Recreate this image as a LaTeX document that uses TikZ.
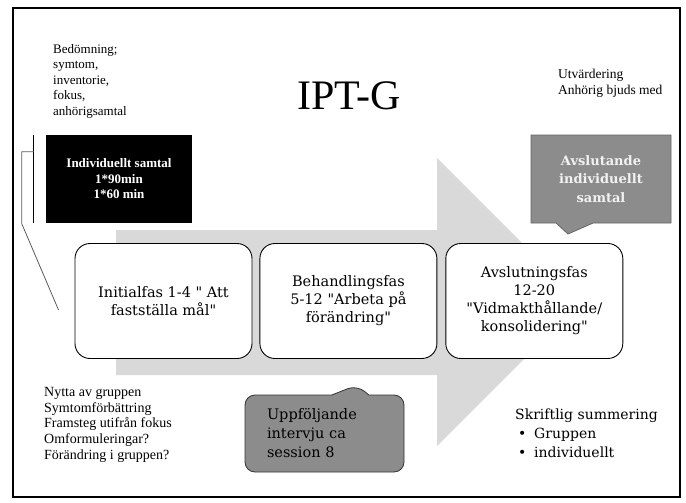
\documentclass[tikz,border=0pt]{standalone}
\usepackage{fontspec}
\setmainfont{DejaVu Serif}
\newfontfamily\boxfont{DejaVu Serif}
\newfontfamily\notefont{Liberation Serif}
\usetikzlibrary{shapes.callouts, positioning, calc}
\definecolor{arrowgray}{RGB}{217,217,217}
\definecolor{calloutgray}{RGB}{140,140,140}
\definecolor{calloutedge}{RGB}{100,100,100}
\definecolor{linkgray}{RGB}{90,90,90}
\tikzset{
	phasebox/.style={rectangle, rounded corners=15pt, draw=black, line width=0.9pt, fill=white,
		minimum width=177pt, minimum height=115pt, align=center, font=\boxfont\fontsize{14.5}{18}\selectfont},
	blackbox/.style={rectangle, fill=black, text=white, minimum width=146pt, minimum height=88pt,
		align=center, font=\notefont\bfseries\fontsize{13}{15.5}\selectfont},
	endcallout/.style={rectangle callout, draw=calloutedge, fill=calloutgray, line width=0.8pt,
		minimum width=140pt, minimum height=88pt, callout pointer width=37pt, text=white!95!black,
		align=center, font=\bfseries\fontsize{13}{18.3}\selectfont},
	midcallout/.style={rectangle callout, rounded corners=10pt, draw=black!80, fill=calloutgray,
		line width=0.8pt, minimum width=159pt, minimum height=77pt, callout pointer width=37pt,
		text width=115pt, align=left, inner sep=0pt, font=\fontsize{14.5}{19}\selectfont},
	notes/.style={align=left, inner sep=0pt, anchor=north west, font=\notefont\fontsize{13}{15.5}\selectfont},
	summary/.style={align=left, inner sep=0pt, anchor=north west, font=\fontsize{14}{19}\selectfont},
	bigarrow/.style={fill=arrowgray},
	linkline/.style={draw=linkgray, line width=0.8pt},
}
\begin{document}
\begin{tikzpicture}[x=1pt, y=-1pt]
	\useasboundingbox (0,0) rectangle (686,503);
	% slide frame
	\draw[line width=1.5pt] (13,8) rectangle (680,497);
	% big arrow behind the phases
	\fill[bigarrow] (116,230) -- (437,230) -- (437,158) -- (581,302) -- (437,446) -- (437,375) -- (116,375) -- cycle;
	\node[font=\notefont\fontsize{42}{48}\selectfont](title) at (349,96){IPT-G};
	\node[phasebox](initial) at (163.5,301){Initialfas 1-4 " Att\\fastställa mål"};
	\node[phasebox,right=7pt of initial](treatment){Behandlingsfas\\5-12 "Arbeta på\\förändring"};
	\node[phasebox,right=8pt of treatment](closing){Avslutningsfas\\12-20\\"Vidmakthållande/\\konsolidering"};
	\node[blackbox](individual) at (119,179){Individuellt samtal\\1*90min\\1*60 min};
	\node[endcallout,callout absolute pointer={(568,234)}](final) at (601,179){Avslutande\\individuellt\\samtal};
	\node[midcallout,callout absolute pointer={(357,385)}](followup) at (324.5,433.5){Uppföljande\\intervju ca\\session 8};
	\node[notes](assess) at (53,44){Bedömning;\\symtom,\\inventorie,\\fokus,\\anhörigsamtal};
	\node[notes,font=\notefont\fontsize{13.5}{15.5}\selectfont](evaluation) at (558,69){Utvärdering\\Anhörig bjuds med};
	\node[notes,font=\notefont\fontsize{14}{15.7}\selectfont](benefits) at (44,387){Nytta av gruppen\\Symtomförbättring\\Framsteg utifrån fokus\\Omformuleringar?\\Förändring i gruppen?};
	\node[summary](summary) at (515,409){Skriftlig summering\\\hspace*{3pt}\makebox[16pt][l]{•}Gruppen\\\hspace*{3pt}\makebox[16pt][l]{•}individuellt};
	% bracket from the individual session to the first phase
	\draw[line width=1.2pt]($(individual.north west)+(-12,0)$)--($(individual.south west)+(-12,0)$);
	\draw[linkline]($(individual.north west)+(-12,17)$)--++(-12,0)--++(0,72)--($(initial.west)+(-16,9)$);
\end{tikzpicture}
\end{document}
